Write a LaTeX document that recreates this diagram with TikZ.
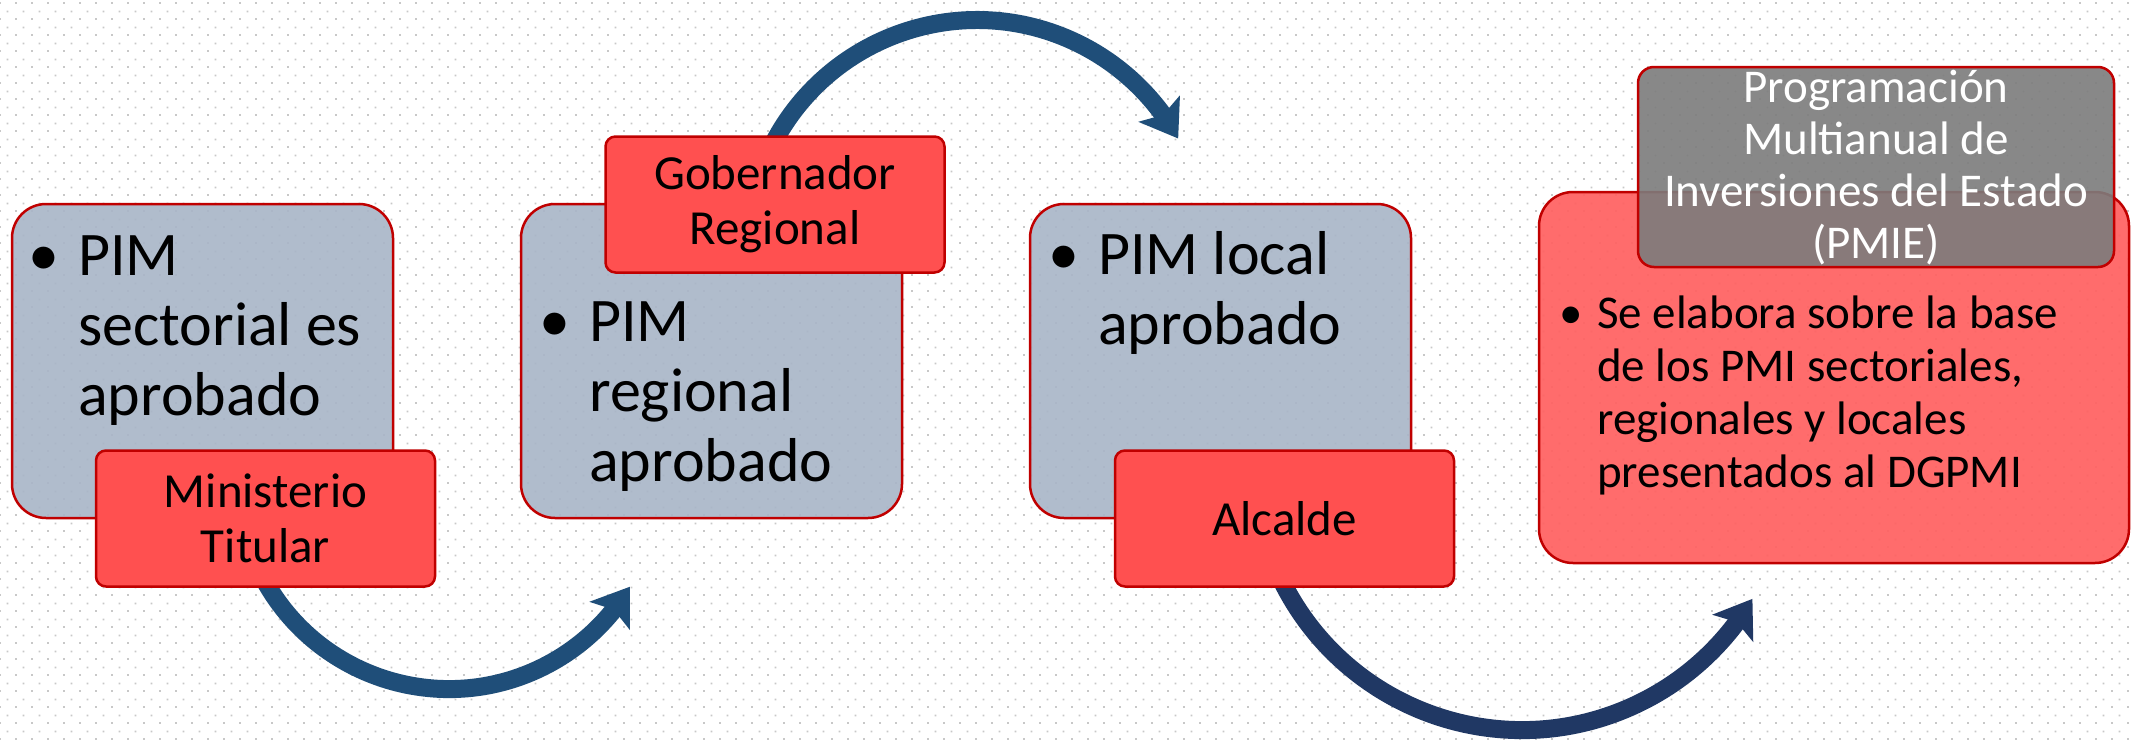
\documentclass[tikz,border=0pt]{standalone}
\usepackage{fontspec}
\setmainfont{Carlito}
\usetikzlibrary{arrows.meta,bending,patterns}
\definecolor{boxblue}{RGB}{168,181,199}
\definecolor{labred}{RGB}{255,80,80}
\definecolor{edgered}{RGB}{192,0,0}
\definecolor{bigred}{RGB}{255,97,97}
\definecolor{pgray}{RGB}{124,124,124}
\definecolor{arrowblue}{RGB}{31,78,121}
\definecolor{arrownavy}{RGB}{32,56,100}
\definecolor{dotgray}{RGB}{200,200,200}
\pgfdeclarepatternformonly{pptdots}{\pgfqpoint{0pt}{0pt}}{\pgfqpoint{16pt}{16pt}}{\pgfqpoint{16pt}{16pt}}{%
  \pgfpathrectangle{\pgfqpoint{0pt}{0pt}}{\pgfqpoint{2pt}{2pt}}%
  \pgfpathrectangle{\pgfqpoint{8pt}{8pt}}{\pgfqpoint{2pt}{2pt}}%
  \pgfusepath{fill}}
\begin{document}
\begin{tikzpicture}[x=1pt,y=-1pt,
  stagebox/.style={draw=edgered, line width=2.5pt, fill=boxblue, fill opacity=0.9,
    rounded corners=34pt, minimum width=381pt, minimum height=314pt, inner sep=0pt},
  bigbox/.style={draw=edgered, line width=2.5pt, fill=bigred, fill opacity=0.93,
    rounded corners=34pt, minimum width=590pt, minimum height=371pt, inner sep=0pt},
  tagbox/.style={draw=edgered, line width=2.5pt, fill=labred, rounded corners=10pt,
    minimum width=339pt, minimum height=136pt, inner sep=0pt, align=center,
    font=\fontsize{49}{55}\selectfont},
  graybox/.style={draw=edgered, line width=2.5pt, fill=pgray, fill opacity=0.9,
    rounded corners=16pt, minimum width=476pt, minimum height=200pt, inner sep=0pt},
  stagetext/.style={inner sep=0pt, anchor=base west, font=\fontsize{62}{70}\selectfont},
  smalltext/.style={inner sep=0pt, font=\fontsize{47}{53}\selectfont},
  arrowline/.style={line width=18pt, -{Stealth[length=35pt,width=48pt,inset=7pt]}}
]
\path[use as bounding box] (0,0) rectangle (2131,739);
\fill[white] (0,0) rectangle (2131,739);
\fill[pattern=pptdots, pattern color=dotgray] (0,0) rectangle (2131,739);

% main boxes
\node[stagebox] (b1) at (202.5,361) {};
\node[stagebox] (b2) at (711.5,361) {};
\node[stagebox] (b3) at (1220.5,361) {};
\node[bigbox] (b4) at (1834,377.5) {};

% curved arrows
\coordinate (a1s) at (262.7,577.1);
\coordinate (a2s) at (770.3,149.2);
\coordinate (a3s) at (1279.1,575.3);
\draw[arrowline, arrowblue] (a1s) arc[start angle=152, end angle=31, radius=211];
\draw[arrowline, arrowblue] (a2s) arc[start angle=206, end angle=331, radius=230];
\draw[arrowline, arrownavy] (a3s) arc[start angle=155, end angle=30.7, radius=268];

% labels
\node[tagbox] (l1) at (265.5,518.5) {Ministerio\\Titular};
\node[tagbox] (l2) at (775,204.5) {Gobernador\\Regional};
\node[tagbox] (l3) at (1284.5,518.5) {Alcalde};
\node[graybox] (g4) at (1876,167) {};

% texts
\node[stagetext] (t1) at (78,275) {\begin{tabular}[t]{@{}l@{}}\llap{•\hspace{19pt}}PIM\\ sectorial es\\ aprobado\end{tabular}};
\node[stagetext] (t2) at (589,341) {\begin{tabular}[t]{@{}l@{}}\llap{•\hspace{19pt}}PIM\\ regional\\ aprobado\end{tabular}};
\node[stagetext] (t3) at (1098,274) {\begin{tabular}[t]{@{}l@{}}\llap{•\hspace{19pt}}PIM local\\ aprobado\end{tabular}};
\node[smalltext, anchor=base west] (t4) at (1597,328) {\begin{tabular}[t]{@{}l@{}}\llap{•\hspace{14pt}}Se elabora sobre la base\\ de los PMI sectoriales,\\ regionales y locales\\ presentados al DGPMI\end{tabular}};
\node[smalltext, anchor=base, text=white, font=\fontsize{47}{52}\selectfont] (gt) at (1876,102) {\begin{tabular}[t]{@{}c@{}}Programación\\ Multianual de\\ Inversiones del Estado\\ (PMIE)\end{tabular}};
\end{tikzpicture}
\end{document}
